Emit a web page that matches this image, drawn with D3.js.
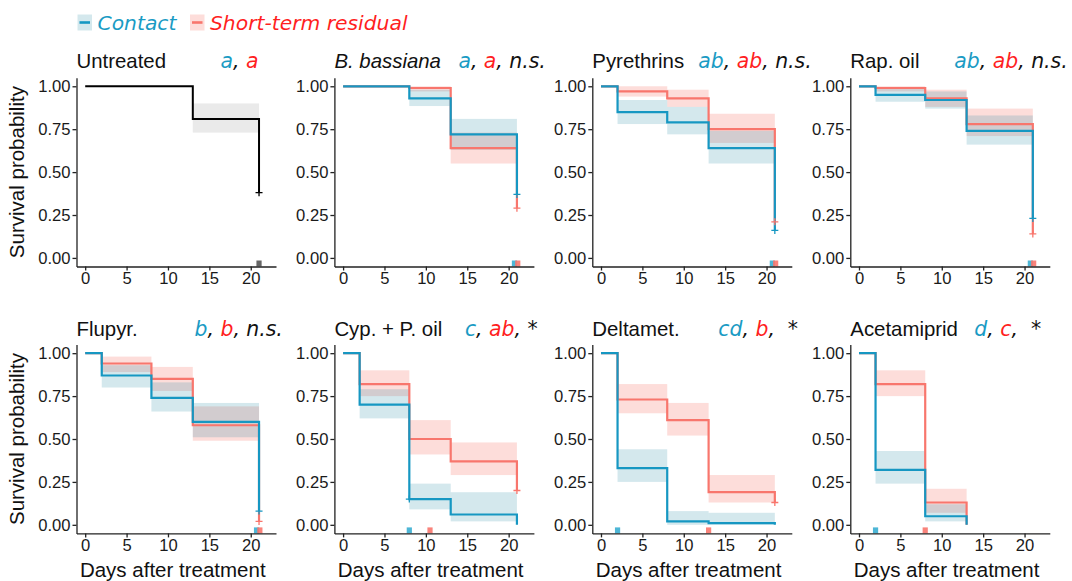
<!DOCTYPE html>
<html><head><meta charset="utf-8">
<script src="https://cdn.jsdelivr.net/npm/d3@7"></script>
<style>
body{margin:0;background:#fff}
svg{display:block}
text{white-space:pre}
</style>
</head><body>
<svg id="chart" width="1072" height="581"></svg>
<script>
// ---------------- DATA ----------------
const treatments = ["Untreated", "B. bassiana", "Pyrethrins", "Rap. oil", "Flupyr.", "Cyp. + P. oil", "Deltamet.", "Acetamiprid"];
const italicTitle = [false, true, false, false, false, false, false, false];
const letterContact = ["a", "a", "ab", "ab", "b", "c", "cd", "d"];
const letterResidual = ["a", "a", "ab", "ab", "b", "ab", "b", "c"];
const comparison = ["", "n.s.", "n.s.", "n.s.", "n.s.", "*", "*", "*"];

const days = [0, 2, 8, 13, 21];
const xTicks = [0, 5, 10, 15, 20];
const yTicks = [0, 0.25, 0.5, 0.75, 1];

// survival value from each day onward (null = curve already ended)
const contactSurv = [
  [1, 1, 1, 0.81, 0.38],
  [1, 1, 0.93, 0.72, 0.37],
  [1, 0.85, 0.79, 0.64, 0.16],
  [1, 0.95, 0.92, 0.74, 0.23],
  [1, 0.87, 0.74, 0.60, 0.08],
  [1, 0.70, 0.15, 0.06, 0],
  [1, 0.33, 0.02, 0.01, 0],
  [1, 0.32, 0.05, 0, null]
];
// confidence band per interval (0-2, 2-8, 8-13, 13-21)
const contactLow = [
  [1, 1, 1, 0.73],
  [1, 1, 0.885, 0.63],
  [1, 0.78, 0.72, 0.55],
  [1, 0.91, 0.87, 0.66],
  [1, 0.80, 0.66, 0.51],
  [1, 0.62, 0.09, 0.02],
  [1, 0.25, 0.0, 0.0],
  [1, 0.24, 0.02, null]
];
const contactHigh = [
  [1, 1, 1, 0.90],
  [1, 1, 0.98, 0.81],
  [1, 0.92, 0.88, 0.74],
  [1, 0.99, 0.97, 0.83],
  [1, 0.93, 0.83, 0.71],
  [1, 0.79, 0.24, 0.19],
  [1, 0.44, 0.08, 0.07],
  [1, 0.43, 0.12, null]
];
const residualSurv = [
  null,
  [1, 1, 0.99, 0.64, 0.29],
  [1, 0.97, 0.93, 0.75, 0.21],
  [1, 0.99, 0.93, 0.78, 0.14],
  [1, 0.94, 0.85, 0.58, 0.02],
  [1, 0.82, 0.50, 0.37, 0.20],
  [1, 0.73, 0.61, 0.19, 0.13],
  [1, 0.82, 0.13, 0, null]
];
const residualLow = [
  null,
  [1, 1, 0.97, 0.55],
  [1, 0.94, 0.88, 0.67],
  [1, 0.97, 0.88, 0.71],
  [1, 0.89, 0.78, 0.49],
  [1, 0.75, 0.41, 0.29],
  [1, 0.65, 0.52, 0.13],
  [1, 0.75, 0.07, null]
];
const residualHigh = [
  null,
  [1, 1, 1, 0.73],
  [1, 1, 0.98, 0.84],
  [1, 1, 0.98, 0.87],
  [1, 0.98, 0.92, 0.69],
  [1, 0.90, 0.61, 0.48],
  [1, 0.82, 0.71, 0.29],
  [1, 0.90, 0.21, null]
];
const contactCensor = [[21], [21], [21], [21], [21], [8], [], []];
const residualCensor = [null, [21], [21], [21], [21], [21], [21], []];
const contactMedian = [21, 20.7, 20.7, 20.7, 20.7, 8, 2, 2];
const residualMedian = [null, 21.1, 21.1, 21.1, 21.1, 10.5, 13, 8];

// ---------------- LAYOUT / STYLE ----------------
const colLeft = [76.5, 334.4, 592.3, 850.3];
const rowTop = [77.7, 344.6];
const PW = 199.5, PH = 188.8;
const annotOffset = [144, 124, 106, 104, 118, 130.5, 126, 124];
const starGap = [0, 0, 0, 0, 0, 1, 2, 2];
const TEAL = "#1697c2", RED = "#f8766d";
const TEAL_TXT = "#1a9bc4", RED_TXT = "#ff1f1f";
const SANS = "'Liberation Sans', Arial, sans-serif";
const DJV = "'DejaVu Sans', Verdana, sans-serif";

const svg = d3.select("#chart");

// legend
const leg = svg.append("g");
[[77.5, TEAL, "#2a8aa3", 0.2, "Contact", 97.5, TEAL_TXT], [190, RED, RED, 0.25, "Short-term residual", 210, RED_TXT]].forEach(([kx, lc, fc, fo, label, tx, tc]) => {
  leg.append("rect").attr("x", kx).attr("y", 14.5).attr("width", 14.5).attr("height", 16).attr("fill", fc).attr("fill-opacity", fo);
  leg.append("line").attr("x1", kx + 2).attr("x2", kx + 12.5).attr("y1", 22.5).attr("y2", 22.5).attr("stroke", lc).attr("stroke-width", 2.6);
  leg.append("text").attr("x", tx).attr("y", 30).attr("font-family", DJV).attr("font-style", "italic")
    .attr("font-size", 20.3).attr("fill", tc).text(label);
});

function stepPoints(vals) {
  const pts = [];
  vals.forEach((v, i) => { if (v !== null) pts.push([days[i], v]); });
  return pts;
}
function valueAt(vals, t) {
  let v = vals[0];
  days.forEach((d, i) => { if (d <= t && vals[i] !== null) v = vals[i]; });
  return v;
}

treatments.forEach((name, k) => {
  const col = k % 4, row = Math.floor(k / 4);
  const left = colLeft[col], top = rowTop[row];
  const x = d3.scaleLinear().domain([-1.05, 23.05]).range([left, left + PW]);
  const y = d3.scaleLinear().domain([-0.05, 1.05]).range([top + PH, top]);
  const g = svg.append("g");
  const pooled = residualSurv[k] === null;

  const groups = pooled
    ? [{surv: contactSurv[k], low: contactLow[k], high: contactHigh[k], line: "#000", fill: "#8c8c8c", fo: 0.18, cens: contactCensor[k], med: contactMedian[k], rug: "#555"}]
    : [
        {surv: residualSurv[k], low: residualLow[k], high: residualHigh[k], line: RED, fill: RED, fo: 0.25, cens: residualCensor[k], med: residualMedian[k], rug: RED},
        {surv: contactSurv[k], low: contactLow[k], high: contactHigh[k], line: TEAL, fill: "#2a8aa3", fo: 0.2, cens: contactCensor[k], med: contactMedian[k], rug: "#3aaed2"}
      ];

  // bands
  groups.forEach(gr => {
    gr.low.forEach((lo, i) => {
      const hi = gr.high[i];
      if (lo === null || hi === null || hi - lo <= 0) return;
      g.append("rect").attr("x", x(days[i])).attr("width", x(days[i + 1]) - x(days[i]))
        .attr("y", y(hi)).attr("height", y(lo) - y(hi)).attr("fill", gr.fill).attr("fill-opacity", gr.fo);
    });
  });
  // lines
  const line = d3.line().x(d => x(d[0])).y(d => y(d[1])).curve(d3.curveStepAfter);
  groups.forEach(gr => {
    g.append("path").attr("d", line(stepPoints(gr.surv))).attr("fill", "none")
      .attr("stroke", gr.line).attr("stroke-width", pooled ? 2 : 2.2);
  });
  // censor marks
  groups.forEach(gr => {
    gr.cens.forEach(t => {
      const v = valueAt(gr.surv, t);
      const cx = x(t), cy = y(v);
      g.append("path").attr("d", `M${cx - 3.5},${cy}H${cx + 3.5}M${cx},${cy - 3.5}V${cy + 3.5}`)
        .attr("stroke", gr.line).attr("stroke-width", 1.3).attr("fill", "none");
    });
  });
  // median rug marks
  groups.slice().reverse().forEach(gr => {
    if (gr.med === null) return;
    g.append("rect").attr("x", x(gr.med) - 2.6).attr("width", 5.2)
      .attr("y", y(-0.05) - 6).attr("height", 6).attr("fill", gr.rug).attr("fill-opacity", 0.9);
  });

  // axes
  const ax = d3.axisBottom(x).tickValues(xTicks).tickSize(4).tickSizeOuter(0).tickPadding(2);
  const ay = d3.axisLeft(y).tickValues(yTicks).tickFormat(d3.format(".2f")).tickSize(4).tickSizeOuter(0).tickPadding(2);
  const gx = g.append("g").attr("transform", `translate(0,${top + PH})`).call(ax);
  const gy = g.append("g").attr("transform", `translate(${left},0)`).call(ay);
  [gx, gy].forEach(a => {
    a.selectAll("path,line").attr("stroke", "#222").attr("stroke-width", 1.3);
    a.selectAll("text").attr("font-family", SANS).attr("font-size", 16.6).attr("fill", "#1a1a1a");
  });

  // title
  const ty = row === 0 ? 68 : 335.7;
  g.append("text").attr("x", left).attr("y", ty).attr("font-family", SANS).attr("font-size", 20.4)
    .attr("font-style", italicTitle[k] ? "italic" : "normal").attr("fill", "#111").text(name);
  const at = g.append("text").attr("x", left + annotOffset[k]).attr("y", ty)
    .attr("font-family", DJV).attr("font-size", 20.4).attr("font-style", "italic");
  at.append("tspan").attr("fill", TEAL_TXT).text(letterContact[k]);
  at.append("tspan").attr("fill", "#111").text(", ");
  at.append("tspan").attr("fill", RED_TXT).text(letterResidual[k]);
  if (comparison[k] === "n.s.") at.append("tspan").attr("fill", "#111").text(", n.s.");
  else if (comparison[k] === "*") {
    at.append("tspan").attr("fill", "#111").text("," + " ".repeat(starGap[k]));
    at.append("tspan").attr("fill", "#111").attr("font-style", "normal").text("*");
  }

  // axis titles
  if (col === 0) {
    g.append("text").attr("transform", `translate(24,${top + PH / 2}) rotate(-90)`).attr("text-anchor", "middle")
      .attr("font-family", SANS).attr("font-size", 20.5).attr("fill", "#111").text("Survival probability");
  }
  if (row === 1) {
    g.append("text").attr("x", left + PW / 2 - 3.5).attr("y", 576.5).attr("text-anchor", "middle")
      .attr("font-family", SANS).attr("font-size", 20.5).attr("fill", "#111").text("Days after treatment");
  }
});
</script>
</body></html>
